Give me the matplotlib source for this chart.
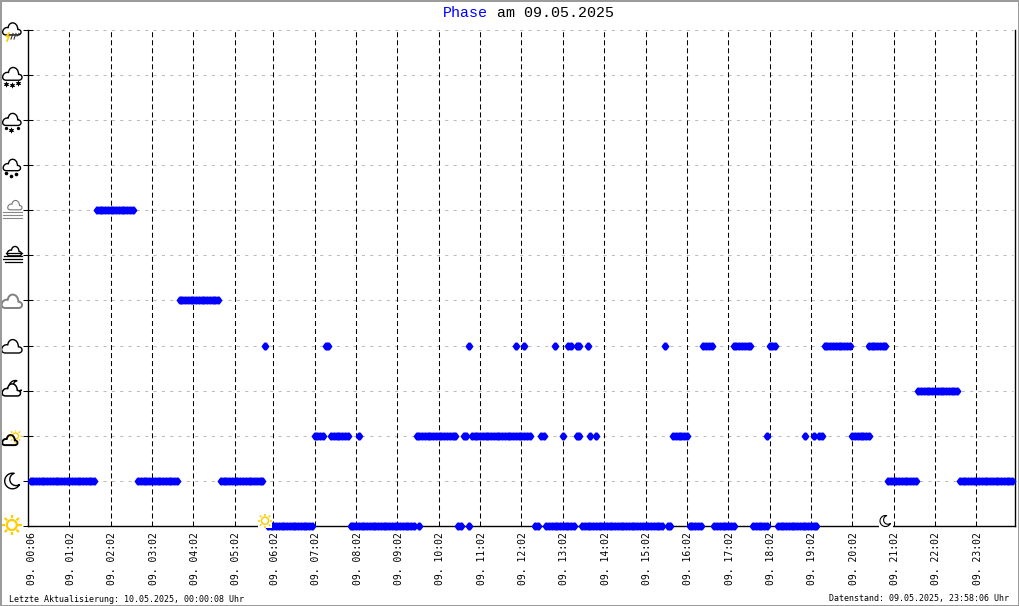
import numpy as np
import matplotlib
matplotlib.use("Agg")
import matplotlib.pyplot as plt
from matplotlib.patches import PathPatch, Circle, Rectangle
from matplotlib.path import Path
from matplotlib.transforms import ScaledTranslation

# ---- data: sample numbers (one sample = 4 minutes) per weather phase ----
sun_runs = [(87, 103), (117, 140), (142, 142), (156, 157), (160, 160), (184, 185),
            (188, 198), (201, 230), (232, 233), (240, 244), (249, 256), (263, 268), (272, 286)]
moon_runs = [(1, 24), (40, 54), (70, 85), (312, 322), (338, 357)]
cloud_sun_runs = [(104, 107), (110, 116), (120, 120), (141, 155), (158, 159), (161, 182),
                  (186, 187), (194, 194), (199, 200), (204, 204), (206, 206),
                  (234, 239), (268, 268), (282, 282), (285, 285), (287, 288), (299, 305)]
cloud_moon_runs = [(323, 337)]
cloud_runs = [(86, 86), (108, 109), (160, 160), (177, 177), (180, 180), (191, 191), (196, 197),
              (199, 200), (203, 203), (231, 231), (245, 248), (256, 262), (269, 271), (289, 298), (305, 311)]
overcast_runs = [(55, 69)]
haze_cloud_runs = [(25, 38)]

phase_runs = {0: sun_runs, 1: moon_runs, 2: cloud_sun_runs, 3: cloud_moon_runs,
              4: cloud_runs, 5: overcast_runs, 7: haze_cloud_runs}

tick_samples = [1, 15, 30, 45, 60, 75, 89, 104, 119, 134, 149, 164, 179, 194, 209, 224, 239, 254,
                269, 284, 299, 314, 329, 344]
tick_labels = ["09. 00:06", "09. 01:02", "09. 02:02", "09. 03:02", "09. 04:02", "09. 05:02",
               "09. 06:02", "09. 07:02", "09. 08:02", "09. 09:02", "09. 10:02", "09. 11:02",
               "09. 12:02", "09. 13:02", "09. 14:02", "09. 15:02", "09. 16:02", "09. 17:02",
               "09. 18:02", "09. 19:02", "09. 20:02", "09. 21:02", "09. 22:02", "09. 23:02"]
phase_levels = list(range(12))
title_name = "Phase"
title_rest = "am 09.05.2025"
footer_left = "Letzte Aktualisierung: 10.05.2025, 00:00:08 Uhr"
footer_right = "Datenstand: 09.05.2025, 23:58:06 Uhr"

W, H = 1020, 606
MONO = "DejaVu Sans Mono"
fig = plt.figure(figsize=(W / 100, H / 100), dpi=100, facecolor="white")
L, R, T, B = 28.5, 1015.5, 29.9, 525.9
ax = fig.add_axes([L / W, 1 - B / H, (R - L) / W, (B - T) / H])
X0, X1 = 0.2, 358.2
ax.set_xlim(X0, X1)
ax.set_ylim(0, 11)

for lv in phase_levels[1:]:
    ax.plot([X0, X1 - 1], [lv, lv], color="#bdbdbd", lw=0.75, ls=(0, (3, 5)), zorder=1, clip_on=False)
for t in tick_samples[1:]:
    ax.axvline(t, color="black", lw=0.75, ls=(0, (4.8, 2.9)), zorder=2)

blob = Path([(1, 0), (0.5, 0.72), (0.22, 1), (-0.22, 1), (-0.5, 0.72), (-1, 0),
             (-0.5, -0.72), (-0.22, -1), (0.22, -1), (0.5, -0.72), (1, 0)], closed=True)
for lv, runs in phase_runs.items():
    xs = np.concatenate([np.arange(a, b + 1) for a, b in runs])
    ax.plot(xs, np.full(len(xs), lv), ls="none", marker=blob, ms=5.8, mew=0,
            color="#0000ff", zorder=4, clip_on=False)

ax.spines["top"].set_visible(False)
for s in ("left", "bottom", "right"):
    ax.spines[s].set_linewidth(1.0)
ax.set_yticks(phase_levels)
ax.set_yticklabels([])
ax.tick_params(axis="y", direction="inout", length=6.6, width=0.75, color="black")
ax.set_xticks(tick_samples)
ax.set_xticklabels(tick_labels, rotation=90, fontfamily=MONO, fontsize=7)
ax.tick_params(axis="x", length=0, pad=4.5)
shift = ScaledTranslation(1.5 / 100, 0, fig.dpi_scale_trans)
for lab in ax.get_xticklabels():
    lab.set_transform(lab.get_transform() + shift)

# overlay in pixel units for the weather pictograms and captions
ov = fig.add_axes([0, 0, 1, 1], zorder=10)
ov.set_xlim(0, W)
ov.set_ylim(H, 0)
ov.axis("off")
ov.patch.set_alpha(0)

GOLD = "#ffcc00"


def cloud(cx, cy, w, color="black", lw=1.0):
    v = np.array([(-0.65, 0.55), (0.65, 0.55),
                  (1.12, 0.55), (1.12, -0.08), (0.64, -0.06),
                  (0.62, -0.98), (-0.36, -1.02), (-0.42, -0.26),
                  (-1.0, -0.42), (-1.35, 0.55), (-0.65, 0.55), (-0.65, 0.55)])
    c = [Path.MOVETO, Path.LINETO, Path.CURVE4, Path.CURVE4, Path.CURVE4, Path.CURVE4, Path.CURVE4,
         Path.CURVE4, Path.CURVE4, Path.CURVE4, Path.CURVE4, Path.CLOSEPOLY]
    v = v * w / 2 + [cx, cy]
    ov.add_patch(PathPatch(Path(v, c), fc="white", ec=color, lw=lw, joinstyle="round"))


def sun(cx, cy, r, ray, lw=1.5):
    for a in np.arange(8) * np.pi / 4:
        ov.plot([cx + (r + 1.6) * np.cos(a), cx + ray * np.cos(a)],
                [cy + (r + 1.6) * np.sin(a), cy + ray * np.sin(a)], color=GOLD, lw=lw, solid_capstyle="butt")
    ov.add_patch(Circle((cx, cy), r, fc="white", ec=GOLD, lw=lw))


def moon(cx, cy, r, lw=0.9, color="black"):
    # crescent opening towards the upper right
    d = np.radians(-25)
    o, ri = 0.5 * r, 0.8 * r
    phi = np.arccos((r ** 2 + o ** 2 - ri ** 2) / (2 * r * o))
    a = np.linspace(d + phi, d + 2 * np.pi - phi, 50)
    outer = np.c_[cx + r * np.cos(a), cy + r * np.sin(a)]
    ix, iy = cx + o * np.cos(d), cy + o * np.sin(d)
    a0 = np.arctan2(outer[-1, 1] - iy, outer[-1, 0] - ix)
    a1 = np.arctan2(outer[0, 1] - iy, outer[0, 0] - ix)
    if a1 > a0:
        a1 -= 2 * np.pi
    b = np.linspace(a0, a1 + 2 * np.pi if a0 - a1 > 2 * np.pi else a1, 50)
    inner = np.c_[ix + ri * np.cos(b), iy + ri * np.sin(b)]
    ov.add_patch(plt.Polygon(np.r_[outer, inner], closed=True, fc="white", ec=color, lw=lw, joinstyle="round"))


def dots(xy, size=2.6, color="black", marker="o"):
    x, y = zip(*xy)
    ov.plot(x, y, ls="none", marker=marker, ms=size, mew=0, color=color)


# thunderstorm
cloud(12, 30, 18)
ov.plot([9, 6.5, 9, 7], [33, 36.5, 36.5, 41], color=GOLD, lw=1.2)
for x0 in (12, 15, 18):
    ov.plot([x0 + 1, x0 - 1], [33.5, 39 if x0 < 18 else 36], color="#333333", lw=0.8)
# snow
cloud(12.5, 75, 19)
dots([(6, 84), (12, 85), (18, 83)], 4.6, marker=(6, 1, 0))
# sleet
cloud(12, 120.5, 18)
dots([(6, 128), (18, 128)], 2.4)
dots([(11.5, 130)], 4.6, marker=(6, 1, 0))
# rain
cloud(12, 166, 17)
dots([(6.5, 173), (11, 176), (16, 174)], 2.6)
# cloud over light fog
cloud(15, 206, 14, color="#777777", lw=0.8)
for y0 in (212, 215, 218):
    ov.plot([3, 22], [y0, y0], color="#888888", lw=0.8)
# fog
cloud(14.5, 252, 14)
for y0, x0 in zip((253, 256, 259, 262), (6, 4, 3, 5)):
    ov.plot([x0, 22], [y0, y0], color="black", lw=0.9)
# overcast
cloud(12, 302.5, 20, color="#808080", lw=1.4)
# cloudy
cloud(12, 347.5, 20)
# cloud + moon
moon(15.5, 387, 6.5, lw=1)
cloud(11.5, 391, 18, lw=1.1)
# cloud + sun
sun(15.5, 436, 3.0, 6.5, lw=1)
cloud(10, 441, 15, lw=1.4)
# moon
moon(12.5, 481, 7.8, lw=1)
# sun
sun(11.8, 525, 5, 10, lw=1.6)
# sunrise / sunset markers on the time axis
ov.add_patch(Rectangle((258, 513), 14, 15, fc="white", ec="none"))
sun(265, 520.7, 3.6, 7.2, lw=1.1)
ov.add_patch(Rectangle((879, 514), 14, 14, fc="white", ec="none"))
moon(885.5, 521, 5.5, lw=0.8)

# captions
ov.text(443, 13, title_name, color="#0000ff", family="Liberation Mono", fontsize=10.8, ha="left", va="center")
ov.text(497, 13, title_rest, color="black", family="Liberation Mono", fontsize=10.8, ha="left", va="center")
ov.text(9.5, 599, footer_left, color="black", family=MONO, fontsize=6, ha="left", va="center")
ov.text(1009, 599, footer_right, color="black", family=MONO, fontsize=6, ha="right", va="center")

# image border
ov.add_patch(Rectangle((0.5, 0.5), W - 1, H - 1, fc="none", ec="#999999", lw=1.4, clip_on=False))

fig.savefig("out.png", dpi=100, facecolor="white")
